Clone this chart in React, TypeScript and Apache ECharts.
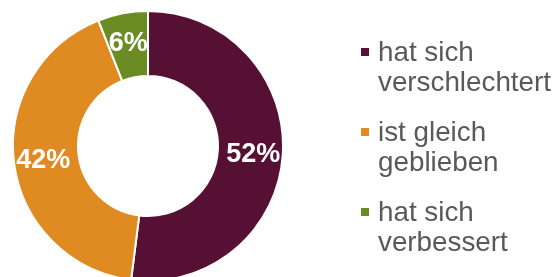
import React, { useEffect, useRef } from "react";
import * as echarts from "echarts";

const categories = ["hat sich\nverschlechtert", "ist gleich\ngeblieben", "hat sich\nverbessert"];
const values = [52, 42, 6];
const colors = ["#561033", "#E08A22", "#6A8C23"];

export default function App() {
  const ref = useRef<HTMLDivElement>(null);
  useEffect(() => {
    document.body.style.margin = "0";
    const chart = echarts.init(ref.current!, undefined, { renderer: "svg" });
    const legendTop = 36;
    const legendStep = 80;
    const graphic: any[] = [];
    categories.forEach((c, i) => {
      graphic.push({
        type: "rect",
        shape: { x: 361, y: 48 + i * legendStep, width: 8, height: 8 },
        style: { fill: colors[i] },
      });
      graphic.push({
        type: "text",
        x: 378,
        y: legendTop + i * legendStep,
        style: {
          text: c,
          fill: "#595959",
          font: "27.8px 'Liberation Sans', Arial, sans-serif",
          lineHeight: 30,
          textVerticalAlign: "top",
        },
      });
    });
    chart.setOption({
      animation: false,
      graphic,
      series: [
        {
          type: "pie",
          center: [148, 146],
          radius: [70, 135],
          startAngle: 90,
          clockwise: true,
          itemStyle: { borderColor: "#ffffff", borderWidth: 2 },
          label: {
            show: true,
            position: "inside",
            formatter: "{c}%",
            color: "#ffffff",
            fontSize: 27,
            fontWeight: "bold",
            fontFamily: "'Liberation Sans', Arial, sans-serif",
          },
          labelLine: { show: false },
          data: values.map((v, i) => ({
            value: v,
            name: categories[i],
            itemStyle: { color: colors[i] },
          })),
        },
      ],
    });
    return () => chart.dispose();
  }, []);
  return <div ref={ref} style={{ position: "fixed", left: 0, top: 0, width: 559, height: 277 }} />;
}
